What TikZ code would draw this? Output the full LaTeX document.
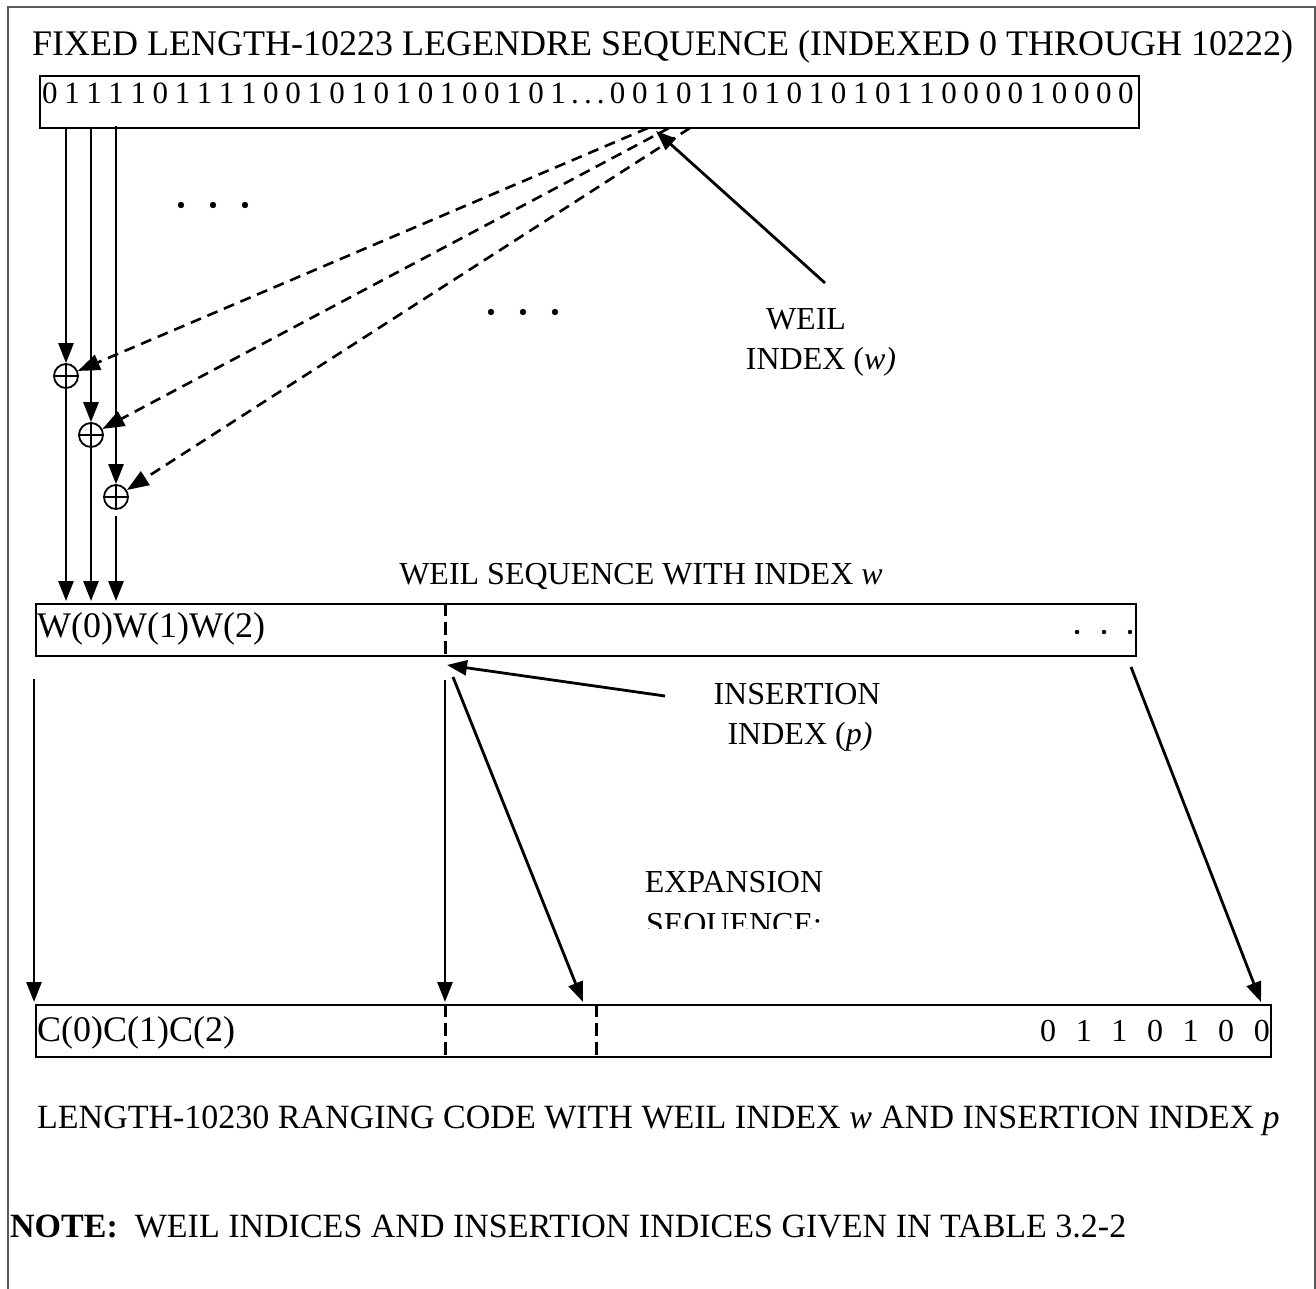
\documentclass[tikz,border=0pt]{standalone}
\usepackage{fontspec}
\setmainfont{Liberation Serif}
\usetikzlibrary{arrows.meta}

\tikzset{
  arr/.style={line width=2.8pt, -{Triangle[length=20pt,width=15pt]}},
  darr/.style={line width=2.6pt, dash pattern=on 11pt off 7pt, -{Triangle[length=22pt,width=16pt]}},
  seqbox/.style={draw, line width=2.4pt, inner sep=0pt},
  divider/.style={line width=3pt, dash pattern=on 13pt off 6pt},
  lbl/.style={font=\fontsize{32}{38}\selectfont, inner sep=0pt},
  biglbl/.style={font=\fontsize{36}{42}\selectfont, inner sep=0pt},
  midlbl/.style={font=\fontsize{34}{40}\selectfont, inner sep=0pt},
  xorc/.style={circle, draw, line width=1.8pt, minimum size=24pt, inner sep=0pt,
    path picture={\draw[line width=1.8pt]
      (path picture bounding box.north) -- (path picture bounding box.south)
      (path picture bounding box.west) -- (path picture bounding box.east);}}
}

\begin{document}
\begin{tikzpicture}[x=1pt,y=-1pt]
    \useasboundingbox (0,0) rectangle (1316,1289);
    \draw[line width=2.4pt, black!65] (8,1295) -- (8,7) -- (1315,7) -- (1315,1295);

    \node[biglbl, anchor=base west] (title) at (32,56) {FIXED LENGTH-10223 LEGENDRE SEQUENCE (INDEXED 0 THROUGH 10222)};
    \node[seqbox, anchor=north west, minimum width=1099pt, minimum height=52pt] (legbox) at (39,75) {};
    \node[anchor=base west, inner sep=0pt, font=\fontsize{31}{36}\selectfont] (legbits) at (42,104)
      {\spaceskip=6.6pt 0 1 1 1 1 0 1 1 1 1 0 0 1 0 1 0 1 0 1 0 0 1 0 1\,.\,.\,.\,0 0 1 0 1 1 0 1 0 1 0 1 0 1 1 0 0 0 0 1 0 0 0 0};

    % xor stages
    \node[xorc] (x1) at (66,376) {};
    \node[xorc] (x2) at (91,435) {};
    \node[xorc] (x3) at (116,497) {};

    \coordinate (s1) at (66,127);
    \coordinate (s2) at (91,127);
    \coordinate (s3) at (116,126);
    \draw[arr] (s1) -- (x1);
    \draw[arr] (s2) -- (x2);
    \draw[arr] (s3) -- (x3);

    \coordinate (d1) at (648,128);
    \coordinate (d2) at (669,128);
    \coordinate (d3) at (690,128);
    \draw[darr] (d1) -- (x1);
    \draw[darr] (d2) -- (x2);
    \draw[darr] (d3) -- (x3);

    \foreach \x in {181,213,245}
      \fill (\x,205) circle (3.2pt);
    \foreach \x in {491,523,555}
      \fill (\x,312) circle (3.2pt);

    \node[lbl, anchor=base] (weil) at (806,329) {WEIL};
    \node[lbl, anchor=base] (weilidx) at (821,369) {INDEX (\textit{w)}};
    \coordinate (wtail) at (825,283);
    \coordinate (wtip) at (656,131);
    \draw[arr] (wtail) -- (wtip);

    % weil sequence
    \node[lbl, anchor=base] (wseqlbl) at (641,584) {WEIL SEQUENCE WITH INDEX \textit{w}};
    \node[seqbox, anchor=north west, minimum width=1100pt, minimum height=52pt] (wbox) at (35,603) {};
    \node[biglbl, anchor=base west] (wtext) at (37,637) {W(0)W(1)W(2)};
    \draw[divider] (445,603) -- (445,655);
    \foreach \x in {1077,1104,1130}
      \fill (\x,632) circle (2.2pt);

    \coordinate (w1) at (66,601);
    \coordinate (w2) at (91,601);
    \coordinate (w3) at (116,601);
    \draw[arr] (x1) -- (w1);
    \draw[arr] (x2) -- (w2);
    \draw[arr] ([yshift=-6pt]x3.south) -- (w3);

    % insertion
    \node[lbl, anchor=base] (ins) at (797,704) {INSERTION};
    \node[lbl, anchor=base] (insidx) at (800,744) {INDEX (\textit{p)}};
    \coordinate (itail) at (665,696);
    \coordinate (itip) at (447,665);
    \draw[arr] (itail) -- (itip);

    \coordinate (b0) at (34,679);
    \coordinate (b1) at (445,680);
    \coordinate (b2) at (453,677);
    \coordinate (b3) at (1131,667);
    \coordinate (c0) at (34,1002);
    \coordinate (c1) at (445,1002);
    \coordinate (c2) at (583,1002);
    \coordinate (c3) at (1261,1002);
    \draw[arr] (b0) -- (c0);
    \draw[arr] (b1) -- (c1);
    \draw[arr] (b2) -- (c2);
    \draw[arr] (b3) -- (c3);

    \node[lbl, anchor=base] (expn) at (734,892) {EXPANSION};
    \begin{scope}
      \clip (600,900) rectangle (900,928);
      \node[lbl, anchor=base] (expseq) at (734,934) {SEQUENCE:};
    \end{scope}

    % ranging code
    \node[seqbox, anchor=north west, minimum width=1235pt, minimum height=52pt] (cbox) at (35,1004) {};
    \node[biglbl, anchor=base west] (ctext) at (37,1041) {C(0)C(1)C(2)};
    \node[lbl, anchor=base east] (cbits) at (1270,1041) {{\spaceskip=19.6pt 0 1 1 0 1 0 0}};
    \draw[divider] (445,1004) -- (445,1056);
    \draw[divider] (596,1004) -- (596,1056);

    \node[midlbl, anchor=base west] (rcode) at (37,1128) {LENGTH-10230 RANGING CODE WITH WEIL INDEX \textit{w} AND INSERTION INDEX \textit{p}};
    \node[midlbl, anchor=base west] (note) at (10,1237) {\textbf{NOTE:}\ \ WEIL INDICES AND INSERTION INDICES GIVEN IN TABLE 3.2-2};
\end{tikzpicture}
\end{document}
